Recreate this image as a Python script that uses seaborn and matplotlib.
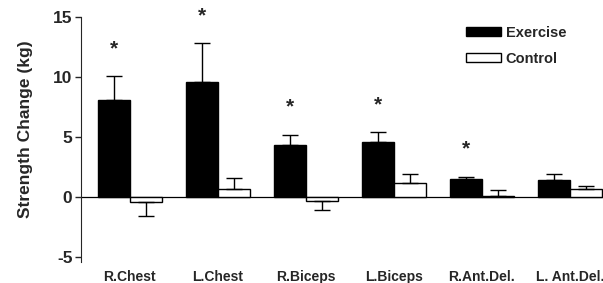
import pandas as pd
import numpy as np
import matplotlib.pyplot as plt
import seaborn as sns

muscles = ['R.Chest', 'L.Chest', 'R.Biceps', 'L.Biceps', 'R.Ant.Del.', 'L. Ant.Del.']
exercise = [8.1, 9.6, 4.35, 4.55, 1.5, 1.4]
exercise_err = [1.95, 3.2, 0.85, 0.85, 0.2, 0.5]
control = [-0.4, 0.7, -0.35, 1.15, 0.05, 0.65]
control_err = [1.2, 0.85, 0.7, 0.8, 0.55, 0.3]
significant = [True, True, True, True, True, False]

df = pd.DataFrame({
    'Muscle': muscles * 2,
    'Group': ['Exercise'] * len(muscles) + ['Control'] * len(muscles),
    'Change': exercise + control,
})

sns.set_style('ticks')
plt.rcParams['font.family'] = ['Liberation Sans', 'DejaVu Sans']
plt.rcParams['font.weight'] = 'bold'
plt.rcParams['axes.unicode_minus'] = False

fig = plt.figure(figsize=(6.03, 2.83), dpi=100)
ax = fig.add_axes([0.134, 0.075, 0.866, 0.869])

sns.barplot(data=df, x='Muscle', y='Change', hue='Group', order=muscles,
            hue_order=['Exercise', 'Control'], palette=['black', 'white'],
            edgecolor='black', linewidth=1, width=0.73, errorbar=None,
            saturation=1, ax=ax)

# one-sided error bars (away from zero) on top of the seaborn bars
bars = ax.patches[:2 * len(muscles)]
vals = exercise + control
errs = exercise_err + control_err
for bar, v, e in zip(bars, vals, errs):
    cx = bar.get_x() + bar.get_width() / 2
    yerr = [[0], [e]] if v >= 0 else [[e], [0]]
    ax.errorbar(cx, v, yerr=yerr, fmt='none', ecolor='black', elinewidth=1,
                capsize=5.5, capthick=1, zorder=1)

for bar, v, e, sig in zip(bars[:len(muscles)], exercise, exercise_err, significant):
    if sig:
        cx = bar.get_x() + bar.get_width() / 2
        ax.text(cx, v + e + 2.3, '*', ha='center', va='center',
                fontsize=15, fontweight='bold', clip_on=False)

ax.axhline(0, color='black', lw=0.9, zorder=0)
ax.set_xlim(-0.557, 5.375)
ax.set_ylim(-5.4, 15.1)
ax.set_yticks([-5, 0, 5, 10, 15])
ax.spines['left'].set_bounds(-5.4, 15)
ax.tick_params(axis='y', labelsize=12.5, length=4, width=1, pad=2)
ax.tick_params(axis='x', length=0, labelsize=10, pad=6)
for lab in ax.get_xticklabels() + ax.get_yticklabels():
    lab.set_fontweight('bold')
ax.set_xlabel('')
ax.set_ylabel('Strength Change (kg)', fontsize=12.5, fontweight='bold')
ax.yaxis.set_label_coords(-0.092, 0.54)
sns.despine(ax=ax, bottom=True)

ax.legend(loc='upper left', bbox_to_anchor=(0.712, 1.014), frameon=False,
          handlelength=2.4, handleheight=0.55, labelspacing=0.85,
          handletextpad=0.35, prop={'weight': 'bold', 'size': 10.5})

fig.savefig('out.png', dpi=100)
